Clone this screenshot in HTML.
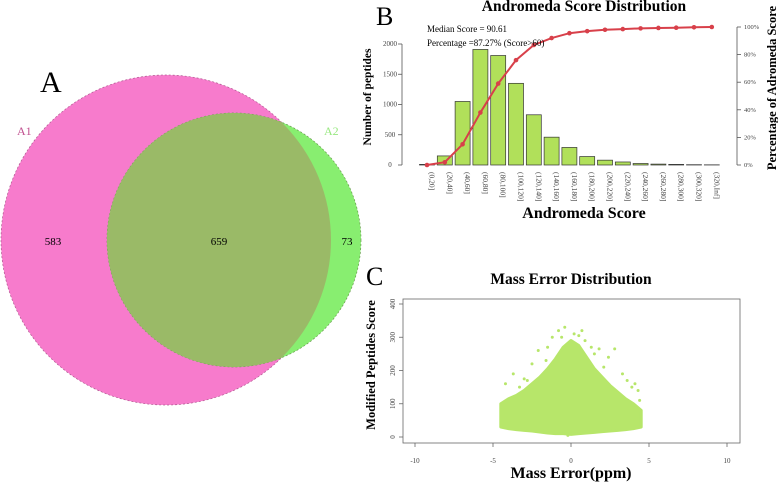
<!DOCTYPE html>
<html><head><meta charset="utf-8"><style>
body{margin:0;background:#fff;width:778px;height:482px;overflow:hidden}
svg{font-family:"Liberation Serif",serif}
</style></head><body>
<svg width="778" height="482" viewBox="0 0 778 482">
<g>
<circle cx="166" cy="240" r="165" fill="#f77bcc" stroke="#b05a90" stroke-dasharray="2,2" stroke-width="0.7"/>
<circle cx="234" cy="240" r="127" fill="#88ee70" stroke="#6a9a50" stroke-dasharray="2,2" stroke-width="0.7"/>
<clipPath id="cp"><circle cx="166" cy="240" r="165"/></clipPath>
<circle cx="234" cy="240" r="127" fill="#9aba67" clip-path="url(#cp)"/>
<text x="40" y="92" font-size="30">A</text>
<text x="17" y="135" font-size="12" fill="#c0508f">A1</text>
<text x="324" y="135" font-size="12" fill="#98e880">A2</text>
<text x="53" y="245" font-size="11" text-anchor="middle">583</text>
<text x="219" y="245" font-size="11" text-anchor="middle">659</text>
<text x="347" y="245" font-size="11" text-anchor="middle">73</text>
</g>
<g id="chartB"></g>
<g id="chartC"></g>
</svg>
<script>
const cats=["(0,20]","(20,40]","(40,60]","(60,80]","(80,100]","(100,120]","(120,140]","(140,160]","(160,180]","(180,200]","(200,220]","(220,240]","(240,260]","(260,280]","(280,300]","(300,320]","(320,Inf]"];
const counts=[10,150,1050,1910,1810,1350,830,460,290,140,80,50,25,15,10,5,3];
const percents=[0,2,15,38,59,76,87,92,95.5,97,98,98.5,99,99.3,99.5,99.8,100];
const yTicks=[0,500,1000,1500,2000];
const pTicks=[0,20,40,60,80,100];
const xTicksC=[-10,-5,0,5,10];
const yTicksC=[0,100,200,300,400];
const envX=[-4.5,-4,-3.5,-3,-2.5,-2,-1.5,-1,-0.5,0,0.5,1,1.5,2,2.5,3,3.5,4,4.5];
const envTop=[100,115,125,140,160,180,205,235,270,290,275,240,205,180,155,135,115,100,80];
const envBottom=[30,25,22,20,18,15,12,10,10,8,10,12,14,16,18,20,22,25,30];
const outX=[-4.2,-3.7,-3,-2.5,-2.1,-1.6,-1.2,-0.8,-0.4,0.2,0.7,1.3,1.8,2.4,2.8,3.3,3.9,4.1,4.3,-1.5,1.5,0.9,-0.2,-3.3,-2.8,2.1,3.6,4.4,-4.4,-0.6,0.5];
const outY=[160,190,175,220,260,230,300,320,330,310,320,270,265,240,265,190,150,160,140,270,250,290,5,150,170,210,170,110,90,300,305];
const NS="http://www.w3.org/2000/svg";
function mk(p,t,a,txt){const e=document.createElementNS(NS,t);for(const k in a)e.setAttribute(k,a[k]);if(txt!==undefined)e.textContent=txt;p.appendChild(e);return e;}
// Chart B
const B=document.getElementById('chartB');
const x0=427,dx=17.8,bw=15;
const bx=i=>x0+i*dx;
const by=v=>165-v*(121/2000);
const py=v=>165-v*(138/100);
mk(B,'line',{x1:402,y1:by(0),x2:402,y2:by(2000),stroke:'#555','stroke-width':0.8});
yTicks.forEach(t=>{
 mk(B,'line',{x1:398,y1:by(t),x2:402,y2:by(t),stroke:'#555','stroke-width':0.8});
 const e=mk(B,'text',{x:390,y:by(t)+2,'font-size':7,'text-anchor':'middle',fill:'#444'},t);
 
});
mk(B,'line',{x1:737,y1:py(0),x2:737,y2:py(100),stroke:'#555','stroke-width':0.8});
pTicks.forEach(t=>{
 mk(B,'line',{x1:737,y1:py(t),x2:741,y2:py(t),stroke:'#555','stroke-width':0.8});
 const e=mk(B,'text',{x:744,y:py(t)+2,'font-size':6.5,fill:'#444'},t+'%');
 
});
counts.forEach((c,i)=>{
 const r=mk(B,'rect',{x:bx(i)-bw/2,y:by(c),width:bw,height:by(0)-by(c),fill:'#b1e05a',stroke:'#333','stroke-width':0.7});
 
 const t=mk(B,'text',{transform:`translate(${bx(i)+2.5},172) rotate(90)`,'font-size':7.5,fill:'#444'},cats[i]);
 
});
let d=percents.map((p,i)=>(i?'L':'M')+bx(i)+','+py(p)).join(' ');
const ln=mk(B,'path',{d:d,fill:'none',stroke:'#d8404a','stroke-width':2});

percents.forEach((p,i)=>{const c=mk(B,'circle',{cx:bx(i),cy:py(p),r:2.3,fill:'#d8404a'});
 });
[['chart-b-title',584,11,'Andromeda Score Distribution',15.5,'bold','middle'],['panel-b-label',376,25,'B',26,'normal','start'],
 ['median-text',427,32,'Median Score = 90.61',9,'normal','start'],['percentage-text',427,46,'Percentage =87.27% (Score>60)',9,'normal','start'],
 ['x-axis-title',584,218,'Andromeda Score',16,'bold','middle']].forEach(a=>{
 const e=mk(B,'text',{x:a[1],y:a[2],'font-size':a[4],'font-weight':a[5],'text-anchor':a[6]},a[3]);
 });
let e=mk(B,'text',{transform:'translate(371,97) rotate(-90)','font-size':11.5,'font-weight':'bold','text-anchor':'middle'},'Number of peptides');

e=mk(B,'text',{transform:'translate(776,88) rotate(-90)','font-size':12.5,'font-weight':'bold','text-anchor':'middle'},'Percentage of Adromeda Score');

// Chart C
const C=document.getElementById('chartC');
const cx=v=>571+v*15.6;
const cy=v=>437-v*(133/400);
mk(C,'rect',{x:403,y:299,width:337,height:144,fill:'none',stroke:'#666','stroke-width':0.8});
xTicksC.forEach(t=>{mk(C,'line',{x1:cx(t),y1:443,x2:cx(t),y2:447,stroke:'#666','stroke-width':0.8});
 const e=mk(C,'text',{x:cx(t),y:463,'font-size':7,'text-anchor':'middle',fill:'#444'},t);
 });
yTicksC.forEach(t=>{mk(C,'line',{x1:399,y1:cy(t),x2:403,y2:cy(t),stroke:'#666','stroke-width':0.8});
 const e=mk(C,'text',{transform:`translate(395,${cy(t)}) rotate(-90)`,'font-size':7,'text-anchor':'middle',fill:'#444'},t);
 });
let pd=envX.map((x,i)=>(i?'L':'M')+cx(x)+','+cy(envTop[i])).join(' ');
for(let i=envX.length-1;i>=0;i--)pd+=' L'+cx(envX[i])+','+cy(envBottom[i]);
const cl=mk(C,'path',{d:pd+'Z',fill:'#b7e66a',stroke:'#b7e66a','stroke-width':3,'stroke-linejoin':'round'});

outX.forEach((x,i)=>{const c=mk(C,'circle',{cx:cx(x),cy:cy(outY[i]),r:1.5,fill:'#b7e66a'});
 });
[['panel-c-label',366,285,'C',26,'normal','start'],['chart-c-title',571,284,'Mass Error Distribution',15.5,'bold','middle'],
 ['x-axis-title',571,478,'Mass Error(ppm)',16,'bold','middle']].forEach(a=>{
 const e=mk(C,'text',{x:a[1],y:a[2],'font-size':a[4],'font-weight':a[5],'text-anchor':a[6]},a[3]);
 });
e=mk(C,'text',{transform:'translate(375,365) rotate(-90)','font-size':12.5,'font-weight':'bold','text-anchor':'middle'},'Modified Peptides Score');

</script>
</body></html>
